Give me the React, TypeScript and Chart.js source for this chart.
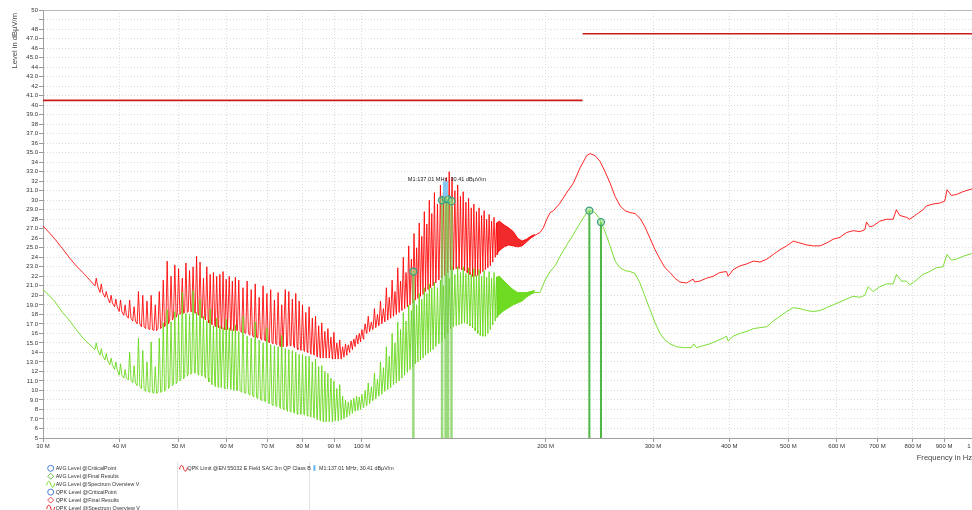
import React, { useEffect, useRef } from "react";
import { Chart, registerables } from "chart.js";

Chart.register(...registerables);

const FONT = "'Liberation Sans', Arial, sans-serif";

// ---------- axes ----------
const xTickValues = [30, 40, 50, 60, 70, 80, 90, 100, 200, 300, 400, 500, 600, 700, 800, 900, 1000];
const xTickLabels = ["30 M", "40 M", "50 M", "60 M", "70 M", "80 M", "90 M", "100 M", "200 M", "300 M", "400 M", "500 M", "600 M", "700 M", "800 M", "900 M", "1 G"];
const yTickValues = [5, 6, 7, 8, 9, 10, 11, 12, 13, 14, 15, 16, 17, 18, 19, 20, 21, 22, 23, 24, 25, 26, 27, 28, 29, 30, 31, 32, 33, 34, 35, 36, 37, 38, 39, 40, 41, 42, 43, 44, 45, 46, 47, 48, 49, 50];
const yTickLabels = ["5", "6", "7.0", "8", "9.0", "10", "11.0", "12", "13.0", "14", "15.0", "16", "17.0", "18", "19.0", "20", "21.0", "22", "23.0", "24", "25.0", "26", "27.0", "28", "29.0", "30", "31.0", "32", "33.0", "34", "35.0", "36", "37.0", "38", "39.0", "40", "41.0", "42", "43.0", "44", "45.0", "46", "47.0", "48", "", "50"];

// ---------- limit (QPK Limit @EN 55032 Class B) ----------
const limitStartMHz = [30, 230];
const limitEndMHz = [230, 1000];
const limitLevel = [40.5, 47.5];

// ---------- spectrum, 30..36 MHz ----------
const startMHz = [30.0, 30.7, 31.4, 32.3, 33.2, 34.0, 35.0, 35.8];
const qpkStart = [27.3, 26.6, 25.9, 24.9, 23.9, 23.1, 22.3, 21.6];
const avgStart = [20.6, 20.0, 19.3, 18.2, 17.3, 16.4, 15.4, 14.8];

// ---------- spectrum, comb of spikes 36..166 MHz ----------
const combMHz = [
  36.5, 37.2, 37.9, 38.6, 39.3, 40.0, 40.7, 41.4, 42.1, 42.8,
  43.5, 44.2, 44.9, 45.6, 46.3, 47.0, 47.7, 48.4, 49.1, 49.8,
  50.5, 51.2, 51.9, 52.6, 53.3, 54.0, 54.7, 55.4, 56.1, 56.8,
  57.5, 58.2, 58.9, 59.6, 60.3, 61.0, 61.7,
  62.5, 63.5, 64.5, 65.5, 66.5, 67.5, 68.5, 69.5, 70.5, 71.5,
  72.5, 73.5, 74.5, 75.5, 76.5, 77.5, 78.5, 79.5, 80.5, 81.5,
  82.5, 83.5, 84.5, 85.5, 86.5, 87.5, 88.5, 89.5, 90.5, 91.5,
  92.5, 93.5, 94.5, 95.5, 96.5, 97.5, 98.5, 99.5,
  100.7, 101.9, 103.1, 104.3, 105.5, 106.7, 107.9, 109.1, 110.3, 111.5,
  112.7, 113.9, 115.1, 116.3, 117.5, 118.7, 119.9, 121.1, 122.3, 123.5,
  124.7, 125.9, 127.1, 128.3, 129.5,
  130.8, 132.3, 133.8, 135.3, 136.8, 138.3, 139.8, 141.3, 142.8, 144.3,
  145.8, 147.3, 148.8, 150.3, 151.8, 153.3, 154.8, 156.3, 157.8, 159.3,
  160.8, 162.3, 163.8, 165.3,
];
const qpkFloor = [
  21.0, 20.3, 19.8, 19.2, 18.8, 18.3, 17.9, 17.6, 17.3, 17.0,
  16.7, 16.5, 16.4, 16.3, 16.5, 16.7, 17.0, 17.4, 17.7, 18.0,
  18.1, 18.2, 18.3, 18.3, 18.1, 17.9, 17.6, 17.4, 17.1, 16.9,
  16.7, 16.6, 16.5, 16.4, 16.4, 16.3, 16.3,
  16.3, 16.1, 16.0, 15.8, 15.6, 15.5, 15.3, 15.2, 15.0, 14.9,
  14.8, 14.6, 14.6, 14.7, 14.7, 14.5, 14.3, 14.2, 14.1, 14.0,
  13.8, 13.7, 13.5, 13.4, 13.4, 13.4, 13.4, 13.3, 13.3, 13.3,
  13.5, 13.7, 14.0, 14.3, 14.6, 14.9, 15.1, 15.4,
  16.0, 16.2, 16.4, 16.6, 16.8, 17.0, 17.2, 17.4, 17.6, 17.8,
  18.0, 18.2, 18.4, 18.6, 18.8, 19.0, 19.2, 19.5, 19.7, 19.9,
  20.1, 20.4, 20.6, 20.8, 21.0,
  21.3, 21.6, 21.8, 22.1, 22.4, 22.7, 22.7, 22.8, 22.8, 22.8,
  22.7, 22.6, 22.4, 22.2, 22.0, 22.1, 22.3, 22.5, 22.7, 22.9,
  23.1, 23.5, 24.0, 24.3,
];
const qpkPeak = [
  21.8, 21.2, 20.4, 20.0, 19.6, 19.5, 19.0, 19.5, 18.8, 20.4,
  20.0, 19.4, 20.0, 19.0, 20.4, 21.6, 23.6, 22.0, 23.2, 22.8,
  21.8, 23.4, 22.6, 23.0, 24.1, 23.5, 21.8, 23.0, 22.2, 22.4,
  22.0, 22.2, 22.5, 21.7, 22.0, 21.5, 21.9,
  21.6, 20.8, 21.5, 20.6, 21.2, 19.8, 21.0, 20.2, 20.6, 19.5,
  20.3, 19.0, 20.6, 20.4, 19.6, 20.2, 19.4, 19.0, 18.2, 18.8,
  17.6, 17.8, 16.8, 17.1, 16.2, 16.5, 15.6, 16.1, 15.0, 15.3,
  14.6, 14.9, 14.8, 15.2, 15.4, 15.8, 16.0, 16.4,
  17.0, 17.8, 17.2, 18.6, 18.0, 19.4, 18.6, 20.8, 19.8, 21.6,
  20.4, 22.9, 21.5, 24.0, 22.4, 25.2, 23.8, 26.5, 25.0, 27.6,
  26.2, 28.8, 27.5, 30.0, 28.6,
  30.8, 29.6, 31.6, 30.8, 32.4, 33.0, 32.4, 31.0, 31.6, 30.4,
  30.9, 29.8, 30.2, 29.2, 29.6, 28.8, 29.2, 28.4, 28.9, 28.0,
  28.5, 27.8, 28.2, 27.6,
];
const avgFloor = [
  14.3, 13.7, 13.2, 12.7, 12.2, 11.6, 11.3, 11.1, 10.8, 10.5,
  10.2, 9.9, 9.8, 9.7, 9.8, 9.9, 10.2, 10.5, 10.7, 11.0,
  11.2, 11.5, 11.7, 11.9, 11.8, 11.6, 11.5, 11.3, 10.9, 10.6,
  10.4, 10.3, 10.3, 10.2, 10.2, 10.1, 10.0,
  10.0, 9.8, 9.7, 9.5, 9.3, 9.1, 8.9, 8.8, 8.6, 8.4,
  8.3, 8.1, 8.0, 7.8, 7.7, 7.6, 7.5, 7.5, 7.4, 7.3,
  7.2, 7.1, 6.9, 6.8, 6.7, 6.7, 6.7, 6.8, 6.8, 6.9,
  7.0, 7.2, 7.4, 7.6, 7.8, 7.9, 8.0, 8.2,
  8.4, 8.6, 8.9, 9.1, 9.4, 9.6, 9.9, 10.1, 10.3, 10.6,
  10.8, 11.0, 11.3, 11.6, 11.9, 12.2, 12.5, 12.8, 13.0, 13.2,
  13.4, 13.7, 13.9, 14.1, 14.3,
  14.6, 14.9, 15.1, 15.5, 16.0, 16.5, 16.7, 16.8, 16.9, 17.0,
  17.1, 17.1, 17.0, 16.8, 16.6, 16.3, 16.0, 15.8, 15.7, 16.0,
  16.4, 16.9, 17.3, 17.7,
];
const avgPeak = [
  15.0, 14.4, 13.9, 13.4, 13.0, 12.8, 12.2, 14.0, 12.6, 15.5,
  14.2, 13.0, 15.1, 12.5, 15.5, 17.1, 18.5, 17.2, 18.3, 18.0,
  20.3, 18.1, 18.0, 20.5, 18.2, 19.6, 17.8, 17.3, 18.6, 16.8,
  17.6, 16.8, 16.6, 17.5, 16.6, 16.4, 16.9,
  16.2, 17.8, 15.7, 15.5, 17.2, 15.3, 15.0, 16.6, 14.8, 14.7,
  14.6, 15.8, 14.4, 14.3, 14.2, 14.0, 13.8, 13.8, 13.6, 13.6,
  13.0, 13.3, 12.5, 12.6, 12.0, 11.8, 11.3, 11.0, 10.2, 10.6,
  9.4, 9.0, 8.8, 9.0, 9.2, 9.4, 9.3, 9.6,
  10.0, 10.8, 10.4, 11.8, 11.2, 13.0, 12.4, 14.6, 13.6, 16.0,
  15.0, 17.2, 16.4, 18.2, 17.3, 19.0, 18.4, 19.6, 19.0, 20.2,
  19.6, 20.8, 20.2, 21.2, 20.8,
  21.4, 20.8, 21.6, 21.0, 22.2, 21.8, 23.0, 22.2, 23.0, 22.4,
  23.0, 22.3, 22.9, 22.2, 22.8, 22.1, 22.7, 22.0, 22.6, 21.9,
  22.5, 21.8, 22.4, 21.9,
];

// ---------- spectrum, dense band 166..192 MHz ----------
const bandMHz = [166, 168, 171, 174, 177, 180, 183, 186, 189, 192];
const qpkBandTop = [27.6, 27.8, 27.4, 27.1, 26.7, 26.0, 25.7, 25.9, 26.2, 26.4];
const qpkBandBottom = [24.3, 24.7, 25.1, 25.3, 25.2, 25.1, 25.2, 25.6, 26.0, 26.3];
const avgBandTop = [21.9, 22.0, 21.5, 21.0, 20.6, 20.3, 20.3, 20.3, 20.4, 20.5];
const avgBandBottom = [17.7, 18.0, 18.4, 18.7, 19.0, 19.2, 19.4, 19.8, 20.1, 20.3];

// ---------- spectrum, 196..1000 MHz ----------
const qpkHiMHz = [195.8, 198.3, 200.9, 203.4, 206.0, 211.2, 216.6, 222.1, 227.8, 233.6, 236.5, 241.0, 245.6, 250.3, 255.1, 260.0, 264.9, 270.0, 275.1, 280.3, 285.6, 291.0, 296.6, 302.3, 308.0, 313.9, 319.8, 325.8, 332.0, 340.4, 349.0, 351.0, 357.9, 367.1, 376.4, 385.9, 395.8, 398.3, 405.9, 416.6, 427.2, 438.2, 449.3, 460.8, 472.5, 484.5, 496.8, 509.4, 522.4, 535.7, 549.3, 563.3, 577.6, 592.3, 607.4, 622.8, 638.6, 654.9, 667.3, 671.5, 680.0, 688.6, 706.1, 724.1, 742.5, 751.8, 761.4, 780.7, 790.5, 810.6, 831.2, 841.7, 863.2, 885.2, 902.1, 910.1, 925.1, 942.7, 966.7, 1000];
const qpkHi = [26.6, 27.1, 28.0, 28.7, 28.9, 29.7, 30.8, 31.8, 33.4, 34.7, 34.9, 34.7, 34.1, 33.0, 31.8, 30.4, 29.4, 28.9, 28.7, 28.6, 28.1, 27.2, 26.0, 24.8, 23.8, 22.9, 22.4, 21.8, 21.4, 21.3, 21.7, 21.4, 21.5, 21.8, 22.0, 22.4, 22.5, 22.0, 22.7, 23.1, 23.3, 23.6, 23.5, 23.8, 24.3, 24.8, 25.2, 25.7, 25.5, 25.3, 25.2, 25.2, 25.5, 25.9, 26.1, 26.6, 26.8, 26.7, 26.9, 27.7, 27.2, 27.3, 27.8, 28.0, 28.0, 29.0, 28.4, 28.2, 28.0, 28.5, 29.0, 29.4, 29.6, 29.7, 29.9, 31.1, 30.5, 30.6, 30.9, 31.2];
const avgHiMHz = [195.8, 199.6, 203.4, 207.3, 211.2, 216.6, 222.1, 227.8, 233.6, 235.9, 241.0, 245.6, 250.3, 255.1, 260.0, 264.9, 270.0, 275.1, 280.3, 285.6, 291.0, 296.6, 302.3, 308.0, 313.9, 319.8, 327.9, 336.2, 346.9, 349.9, 353.5, 362.5, 371.7, 381.2, 390.8, 395.8, 398.3, 405.9, 416.6, 427.2, 438.2, 449.3, 460.8, 472.5, 484.5, 496.8, 509.4, 522.4, 535.7, 549.3, 563.3, 577.6, 592.3, 607.4, 622.8, 638.6, 654.9, 667.3, 675.7, 688.6, 706.1, 724.1, 742.5, 751.8, 766.2, 780.7, 790.5, 810.6, 831.2, 852.4, 874.1, 896.4, 910.1, 925.1, 942.7, 966.7, 1000];
const avgHi = [20.3, 21.6, 22.5, 23.1, 24.1, 25.3, 26.4, 27.6, 28.7, 28.9, 28.7, 28.0, 26.7, 25.2, 23.6, 22.9, 22.6, 22.5, 22.3, 21.3, 19.9, 18.5, 17.1, 16.0, 15.3, 14.9, 14.6, 14.5, 14.5, 14.9, 14.5, 14.7, 14.9, 15.2, 15.5, 15.7, 15.2, 15.7, 16.0, 16.2, 16.5, 16.6, 16.7, 17.3, 17.8, 18.3, 18.7, 18.6, 18.4, 18.3, 18.4, 18.7, 19.0, 19.3, 19.6, 19.9, 19.8, 20.0, 20.9, 20.4, 20.9, 21.2, 21.2, 22.2, 21.5, 21.5, 21.1, 21.6, 22.2, 22.5, 22.9, 23.0, 24.3, 23.7, 23.8, 24.1, 24.4];

// ---------- final results ----------
const finalMHz = [121.4, 135.3, 137.1, 138.4, 140.2, 235.9, 246.5];
const finalLevel = [22.5, 30.0, 30.2, 30.1, 29.9, 28.9, 27.7];

// ---------- marker ----------
const m1MHz = 137.01;
const m1Level = 30.41;
const m1Text = "M1:137.01 MHz, 30.41 dB\u00b5V/m";

// ---------- legend ----------
const legendCol1Labels = [
  "AVG Level @CriticalPoint",
  "AVG Level @Final Results",
  "AVG Level @Spectrum Overview V",
  "QPK Level @CriticalPoint",
  "QPK Level @Final Results",
  "QPK Level @Spectrum Overview V",
];
const legendCol1Symbols = ["circle", "diamond", "wave", "circle", "diamond", "wave"];
const legendCol1Colors = ["#4a7fd4", "#6cc04a", "#77dd22", "#4a7fd4", "#e04a4a", "#e02020"];
const legendCol2Label = "QPK Limit @EN 55032 E Field SAC 3m QP Class B";

// ---------- styles ----------
const RED = "rgba(255,0,0,0.85)";
const GREEN = "rgba(100,215,20,0.85)";
const SPIKE_RISE = 1.005;
const SPIKE_FALL = 1.01;

const xy = (xs: number[], ys: number[]) => xs.map((x, i) => ({ x, y: ys[i] }));
function spikes(floor: number[], peak: number[]) {
  const out: { x: number; y: number }[] = [];
  combMHz.forEach((f, i) => {
    out.push({ x: f, y: floor[i] }, { x: f * SPIKE_RISE, y: peak[i] }, { x: f * SPIKE_FALL, y: floor[i] });
  });
  return out;
}
function verticals(idx: number[]) {
  const out: { x: number; y: number | null }[] = [];
  idx.forEach((i) => {
    out.push({ x: finalMHz[i], y: 5 }, { x: finalMHz[i], y: finalLevel[i] }, { x: finalMHz[i], y: null });
  });
  return out;
}

const qpkTrace = [...xy(startMHz, qpkStart), ...spikes(qpkFloor, qpkPeak), ...xy(bandMHz, qpkBandBottom), ...xy(qpkHiMHz, qpkHi)];
const avgTrace = [...xy(startMHz, avgStart), ...spikes(avgFloor, avgPeak), ...xy(bandMHz, avgBandBottom), ...xy(avgHiMHz, avgHi)];

const lineBase = { showLine: true, fill: false, pointRadius: 0, borderWidth: 1, tension: 0 };

function buildDatasets(): any[] {
  const ds: any[] = [];
  limitStartMHz.forEach((s, i) => {
    ds.push({ ...lineBase, data: [{ x: s, y: limitLevel[i] }, { x: limitEndMHz[i], y: limitLevel[i] }], borderColor: "#cc1a1a", borderWidth: 1.6, order: 1 });
  });
  ds.push({ ...lineBase, showLine: false, data: xy(finalMHz, finalLevel), pointRadius: 3.5, pointStyle: "circle", pointBorderColor: "#3d9c86", pointBackgroundColor: "rgba(150,225,120,0.55)", pointBorderWidth: 1.3, order: 2 });
  const low = finalMHz.map((f, i) => i).filter((i) => finalMHz[i] < 200);
  const high = finalMHz.map((f, i) => i).filter((i) => finalMHz[i] >= 200);
  ds.push({ ...lineBase, data: verticals(low), borderColor: "rgba(120,205,80,0.75)", borderWidth: 2.5, spanGaps: false, order: 3 });
  ds.push({ ...lineBase, data: verticals(high), borderColor: "rgba(70,180,60,0.95)", borderWidth: 2, spanGaps: false, order: 3 });
  ds.push({ ...lineBase, data: avgTrace, borderColor: GREEN, order: 10 });
  const avgBottomIdx = ds.length + 1;
  ds.push({ ...lineBase, data: xy(bandMHz, avgBandTop), borderColor: GREEN, backgroundColor: "rgba(95,215,10,0.9)", fill: avgBottomIdx, order: 11 });
  ds.push({ ...lineBase, data: xy(bandMHz, avgBandBottom), borderColor: "transparent", borderWidth: 0, order: 12 });
  ds.push({ ...lineBase, data: qpkTrace, borderColor: RED, order: 20 });
  const qpkBottomIdx = ds.length + 1;
  ds.push({ ...lineBase, data: xy(bandMHz, qpkBandTop), borderColor: RED, backgroundColor: "rgba(240,20,20,0.9)", fill: qpkBottomIdx, order: 21 });
  ds.push({ ...lineBase, data: xy(bandMHz, qpkBandBottom), borderColor: "transparent", borderWidth: 0, order: 22 });
  return ds;
}

function drawSymbol(ctx: CanvasRenderingContext2D, kind: string, color: string, x: number, y: number) {
  ctx.save();
  ctx.strokeStyle = color;
  ctx.lineWidth = 1;
  ctx.beginPath();
  if (kind === "circle") {
    ctx.arc(x, y, 3, 0, Math.PI * 2);
  } else if (kind === "diamond") {
    ctx.moveTo(x, y - 3);
    ctx.lineTo(x + 3, y);
    ctx.lineTo(x, y + 3);
    ctx.lineTo(x - 3, y);
    ctx.closePath();
  } else {
    ctx.moveTo(x - 4, y + 1);
    ctx.bezierCurveTo(x - 3, y - 4, x - 1, y - 4, x, y);
    ctx.bezierCurveTo(x + 1, y + 4, x + 3, y + 4, x + 4, y - 1);
  }
  ctx.stroke();
  ctx.restore();
}

const decorPlugin = {
  id: "decor",
  beforeDraw(chart: any) {
    const { ctx, width, height } = chart;
    ctx.save();
    ctx.fillStyle = "#ffffff";
    ctx.fillRect(0, 0, width, height);
    ctx.restore();
  },
  afterDraw(chart: any) {
    const { ctx, chartArea, scales } = chart;
    const sx = scales.x;
    const sy = scales.y;
    ctx.save();
    // frame top
    ctx.strokeStyle = "#b8b8b8";
    ctx.lineWidth = 1;
    ctx.beginPath();
    ctx.moveTo(chartArea.left, chartArea.top + 0.5);
    ctx.lineTo(chartArea.right, chartArea.top + 0.5);
    ctx.stroke();

    // M1 marker
    const mx = sx.getPixelForValue(m1MHz);
    const my = sy.getPixelForValue(m1Level);
    ctx.fillStyle = "#86c6f2";
    ctx.fillRect(mx - 2.5, my - 15, 5, 15);
    ctx.fillStyle = "#222";
    ctx.font = `5.6px ${FONT}`;
    ctx.textAlign = "center";
    ctx.textBaseline = "middle";
    ctx.fillText(m1Text, mx + 1.5, my - 16.5);

    // axis titles
    ctx.fillStyle = "#444";
    ctx.font = `7.6px ${FONT}`;
    ctx.textAlign = "right";
    ctx.textBaseline = "middle";
    ctx.fillText("Frequency in Hz", 972, 457.5);
    ctx.save();
    ctx.translate(15, 13);
    ctx.rotate(-Math.PI / 2);
    ctx.textAlign = "right";
    ctx.fillText("Level in dB\u00b5V/m", 0, 0);
    ctx.restore();

    // legend separators
    ctx.strokeStyle = "#e2e2e2";
    ctx.beginPath();
    ctx.moveTo(177.5, 462);
    ctx.lineTo(177.5, 510);
    ctx.moveTo(309.5, 462);
    ctx.lineTo(309.5, 510);
    ctx.stroke();

    // legend col 1
    ctx.font = `5.35px ${FONT}`;
    ctx.textAlign = "left";
    ctx.textBaseline = "middle";
    legendCol1Labels.forEach((label, i) => {
      const y = 468.3 + i * 7.95;
      drawSymbol(ctx, legendCol1Symbols[i], legendCol1Colors[i], 50.7, y);
      ctx.fillStyle = "#333";
      ctx.fillText(label, 55.7, y);
    });
    // legend col 2
    drawSymbol(ctx, "wave", "#e02020", 183.5, 468.3);
    ctx.fillStyle = "#333";
    ctx.fillText(legendCol2Label, 187.5, 468.3);
    // legend col 3
    ctx.fillStyle = "#6bb8f0";
    ctx.fillRect(313.3, 465.3, 2.2, 5.5);
    ctx.fillStyle = "#333";
    ctx.fillText(m1Text, 319, 468.3);
    ctx.restore();
  },
};

export default function App() {
  const canvasRef = useRef<HTMLCanvasElement | null>(null);
  useEffect(() => {
    const canvas = canvasRef.current;
    if (!canvas) return;
    const chart = new Chart(canvas, {
      type: "line",
      data: { datasets: buildDatasets() },
      options: {
        responsive: false,
        maintainAspectRatio: false,
        devicePixelRatio: 1,
        animation: false,
        events: [],
        parsing: true,
        layout: { autoPadding: false, padding: { top: 10, left: 0, right: 0, bottom: 0 } },
        elements: { point: { radius: 0 }, line: { tension: 0 } },
        plugins: { legend: { display: false }, tooltip: { enabled: false }, title: { display: false } },
        scales: {
          x: {
            type: "logarithmic",
            min: 30,
            max: 1000,
            position: "bottom",
            afterBuildTicks: (s: any) => {
              s.ticks = xTickValues.map((v) => ({ value: v }));
            },
            afterFit: (s: any) => {
              s.height = 72;
              s.paddingLeft = 0;
              s.paddingRight = 0;
            },
            ticks: {
              autoSkip: false,
              maxRotation: 0,
              minRotation: 0,
              padding: 1,
              color: "#333",
              font: { size: 6, family: FONT },
              callback: (v: any) => xTickLabels[xTickValues.indexOf(Number(v))] ?? "",
            },
            grid: { color: "#dcdcdc", tickColor: "#999", tickLength: 4, tickBorderDash: [] },
            border: { display: true, color: "#a0a0a0", width: 1, dash: [1, 2] },
          },
          y: {
            type: "linear",
            min: 5,
            max: 50,
            afterBuildTicks: (s: any) => {
              s.ticks = yTickValues.map((v) => ({ value: v }));
            },
            afterFit: (s: any) => {
              s.width = 43;
              s.paddingTop = 0;
              s.paddingBottom = 0;
            },
            ticks: {
              autoSkip: false,
              padding: 1,
              color: "#333",
              font: { size: 6, family: FONT },
              callback: (v: any) => yTickLabels[yTickValues.indexOf(Number(v))] ?? "",
            },
            grid: { color: "#dcdcdc", tickColor: "#999", tickLength: 4, tickBorderDash: [] },
            border: { display: true, color: "#a0a0a0", width: 1, dash: [1, 2] },
          },
        },
      } as any,
      plugins: [decorPlugin as any],
    });
    return () => chart.destroy();
  }, []);
  return (
    <div style={{ position: "fixed", left: 0, top: 0, width: 972, height: 510, overflow: "hidden", background: "#fff" }}>
      <canvas ref={canvasRef} width={972} height={510} style={{ display: "block", width: 972, height: 510 }} />
    </div>
  );
}
